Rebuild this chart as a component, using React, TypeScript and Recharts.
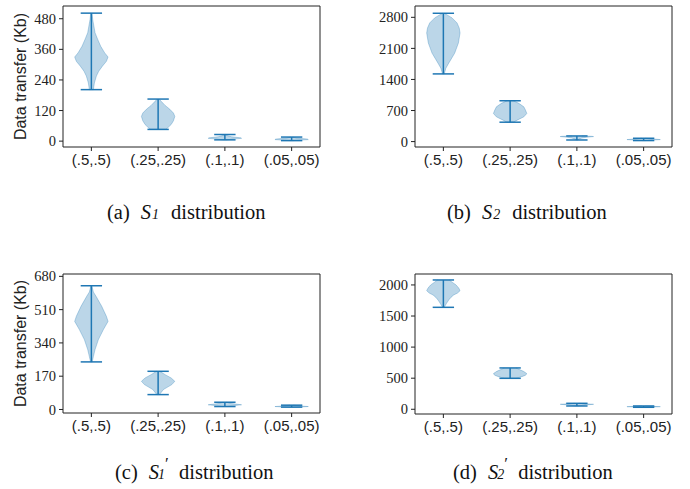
import { ComposedChart, Scatter, XAxis, YAxis, ReferenceLine } from "recharts";

const categories = ["(.5,.5)", "(.25,.25)", "(.1,.1)", "(.05,.05)"];
const positions = [1, 2, 3, 4];

// violin profiles: levels (top -> bottom, Kb) and relative half widths
const s1Levels = [
  [502, 477, 425, 399, 372, 346, 330, 313, 294, 274, 255, 228, 202],
  [165, 155, 140, 125, 110, 97, 80, 65, 55, 46],
  [26, 22, 17, 13, 11, 8, 5],
  [16, 12, 8, 6, 4, 2],
];
const s1Widths = [
  [0.04, 0.08, 0.22, 0.38, 0.56, 0.8, 1.0, 0.9, 0.66, 0.44, 0.3, 0.18, 0.12],
  [0.06, 0.2, 0.42, 0.7, 0.92, 1.0, 0.92, 0.78, 0.62, 0.45],
  [0.05, 0.12, 0.4, 0.95, 1.0, 0.5, 0.1],
  [0.05, 0.3, 0.95, 1.0, 0.5, 0.1],
];

const s2Levels = [
  [2891, 2860, 2787, 2673, 2560, 2447, 2220, 1994, 1880, 1767, 1654, 1525],
  [920, 861, 784, 709, 634, 557, 483, 437],
  [127, 118, 113, 100, 80, 60, 36],
  [75, 60, 45, 35, 23],
];
const s2Widths = [
  [0.05, 0.2, 0.52, 0.82, 0.95, 1.0, 0.9, 0.68, 0.5, 0.32, 0.15, 0.05],
  [0.2, 0.52, 0.82, 0.92, 1.0, 0.82, 0.42, 0.2],
  [0.3, 0.9, 1.0, 0.6, 0.3, 0.15, 0.05],
  [0.1, 0.5, 1.0, 0.5, 0.1],
];

const s1pLevels = [
  [632, 600, 578, 527, 476, 450, 408, 357, 306, 270, 243],
  [195, 178, 161, 144, 127, 102, 76],
  [37, 30, 24, 20, 15],
  [22, 17, 15, 13, 12],
];
const s1pWidths = [
  [0.03, 0.12, 0.28, 0.62, 0.9, 1.0, 0.72, 0.42, 0.22, 0.12, 0.05],
  [0.1, 0.42, 0.78, 1.0, 0.82, 0.32, 0.08],
  [0.1, 0.4, 1.0, 0.6, 0.15],
  [0.1, 0.6, 1.0, 0.5, 0.1],
];

const s2pLevels = [
  [2080, 2040, 2000, 1950, 1908, 1870, 1839, 1800, 1758, 1700, 1640],
  [665, 640, 610, 580, 568, 545, 525, 498],
  [96, 88, 80, 70, 53],
  [53, 47, 42, 37, 32],
];
const s2pWidths = [
  [0.35, 0.55, 0.76, 0.92, 1.0, 0.85, 0.62, 0.45, 0.32, 0.18, 0.05],
  [0.35, 0.55, 0.8, 0.97, 1.0, 0.9, 0.7, 0.35],
  [0.1, 0.5, 1.0, 0.5, 0.1],
  [0.1, 0.5, 1.0, 0.5, 0.1],
];

const s1Ticks = [0, 120, 240, 360, 480];
const s2Ticks = [0, 700, 1400, 2100, 2800];
const s1pTicks = [0, 170, 340, 510, 680];
const s2pTicks = [0, 500, 1000, 1500, 2000];

const BLUE = "#1f77b4";
const AXIS = "#222";
const HALF = 0.25;
const CAP = 0.16;
const X_DOMAIN: [number, number] = [0.575, 4.425];
const serif = "'Liberation Serif', 'DejaVu Serif', serif";
const sans = "'Liberation Sans', 'DejaVu Sans', sans-serif";

function violinPoints(pos: number, levels: number[], widths: number[]) {
  const right = levels.map((y, i) => ({ x: pos + HALF * widths[i], y }));
  const left = levels
    .map((y, i) => ({ x: pos - HALF * widths[i], y }))
    .reverse();
  return [...right, ...left];
}

interface PanelProps {
  levels: number[][];
  widths: number[][];
  domain: [number, number];
  ticks: number[];
  yLabel?: boolean;
  yAxisWidth: number;
  marginRight: number;
  marginBottom: number;
}

function Panel({ levels, widths, domain, ticks, yLabel, yAxisWidth, marginRight, marginBottom }: PanelProps) {
  return (
    <ComposedChart
      width={345}
      height={180}
      margin={{ top: 6, right: marginRight, bottom: marginBottom, left: 0 }}
    >
      <XAxis
        type="number"
        dataKey="x"
        domain={X_DOMAIN}
        allowDataOverflow
        ticks={positions}
        interval={0}
        tickFormatter={(v: number) => categories[Math.round(v) - 1]}
        height={30}
        tickSize={4}
        tickMargin={3}
        stroke={AXIS}
        tick={{ fontFamily: sans, fontSize: 15, fill: AXIS }}
      />
      <YAxis
        type="number"
        dataKey="y"
        domain={domain}
        allowDataOverflow
        ticks={ticks}
        interval={0}
        width={yAxisWidth}
        tickSize={4}
        tickMargin={3}
        stroke={AXIS}
        tick={{ fontFamily: serif, fontSize: 14.5, fill: AXIS }}
        label={
          yLabel
            ? {
                value: "Data transfer (Kb)",
                angle: -90,
                position: "insideLeft",
                offset: 20,
                style: { textAnchor: "middle", fontFamily: sans, fontSize: 16, fill: AXIS },
              }
            : undefined
        }
      />
      {/* closing frame: top and right spines */}
      <ReferenceLine y={domain[1]} stroke={AXIS} strokeWidth={1} />
      <ReferenceLine x={X_DOMAIN[1]} stroke={AXIS} strokeWidth={1} />
      {levels.map((lv, i) => (
        <Scatter
          key={`v${i}`}
          data={violinPoints(positions[i], lv, widths[i])}
          fill={BLUE}
          line={{ fill: BLUE, fillOpacity: 0.3, stroke: BLUE, strokeOpacity: 0.3, strokeWidth: 1 }}
          shape={() => <g />}
          isAnimationActive={false}
        />
      ))}
      {levels.map((lv, i) => {
        const p = positions[i];
        const max = lv[0];
        const min = lv[lv.length - 1];
        return [
          <ReferenceLine key={`w${i}`} segment={[{ x: p, y: min }, { x: p, y: max }]} stroke={BLUE} strokeWidth={1.5} />,
          <ReferenceLine key={`t${i}`} segment={[{ x: p - CAP, y: max }, { x: p + CAP, y: max }]} stroke={BLUE} strokeWidth={1.5} />,
          <ReferenceLine key={`b${i}`} segment={[{ x: p - CAP, y: min }, { x: p + CAP, y: min }]} stroke={BLUE} strokeWidth={1.5} />,
        ];
      })}
    </ComposedChart>
  );
}

const capStyle: React.CSSProperties = {
  position: "absolute",
  fontFamily: serif,
  fontSize: 20.5,
  color: "#111",
  whiteSpace: "nowrap",
  lineHeight: "20px",
};

function Caption({ left, top, tag, sub, prime }: { left: number; top: number; tag: string; sub: string; prime?: boolean }) {
  return (
    <div style={{ ...capStyle, left, top }}>
      <span>{tag}</span>
      <span style={{ marginLeft: 11, fontStyle: "italic" }}>S</span>
      <span style={{ display: "inline-block", position: "relative", width: prime ? 11 : 9, height: 20 }}>
        {prime && (
          <span style={{ position: "absolute", left: 6, top: 0, fontSize: 17, lineHeight: "9px", fontStyle: "normal" }}>′</span>
        )}
        <span style={{ position: "absolute", left: prime ? -1 : 1, top: 10, fontSize: 14, lineHeight: "12px", fontStyle: "italic" }}>{sub}</span>
      </span>
      <span style={{ marginLeft: prime ? 9 : 11 }}>distribution</span>
    </div>
  );
}

export default function App() {
  return (
    <div style={{ position: "absolute", left: 0, top: 0, width: 690, height: 489, background: "#fff" }}>
      <div style={{ position: "absolute", left: 0, top: 0 }}>
        <Panel levels={s1Levels} widths={s1Widths} domain={[-23, 530]} ticks={s1Ticks} yLabel yAxisWidth={63} marginRight={25} marginBottom={3} />
      </div>
      <div style={{ position: "absolute", left: 345, top: 0 }}>
        <Panel levels={s2Levels} widths={s2Widths} domain={[-122, 3055]} ticks={s2Ticks} yAxisWidth={70} marginRight={18} marginBottom={3} />
      </div>
      <div style={{ position: "absolute", left: 0, top: 268 }}>
        <Panel levels={s1pLevels} widths={s1pWidths} domain={[-18, 692]} ticks={s1pTicks} yLabel yAxisWidth={63} marginRight={25} marginBottom={5} />
      </div>
      <div style={{ position: "absolute", left: 345, top: 268 }}>
        <Panel levels={s2pLevels} widths={s2pWidths} domain={[-76, 2176]} ticks={s2pTicks} yAxisWidth={70} marginRight={18} marginBottom={4} />
      </div>
      <Caption left={107} top={199} tag="(a)" sub="1" />
      <Caption left={447} top={199} tag="(b)" sub="2" />
      <Caption left={115} top={459} tag="(c)" sub="1" prime />
      <Caption left={453} top={459} tag="(d)" sub="2" prime />
    </div>
  );
}
